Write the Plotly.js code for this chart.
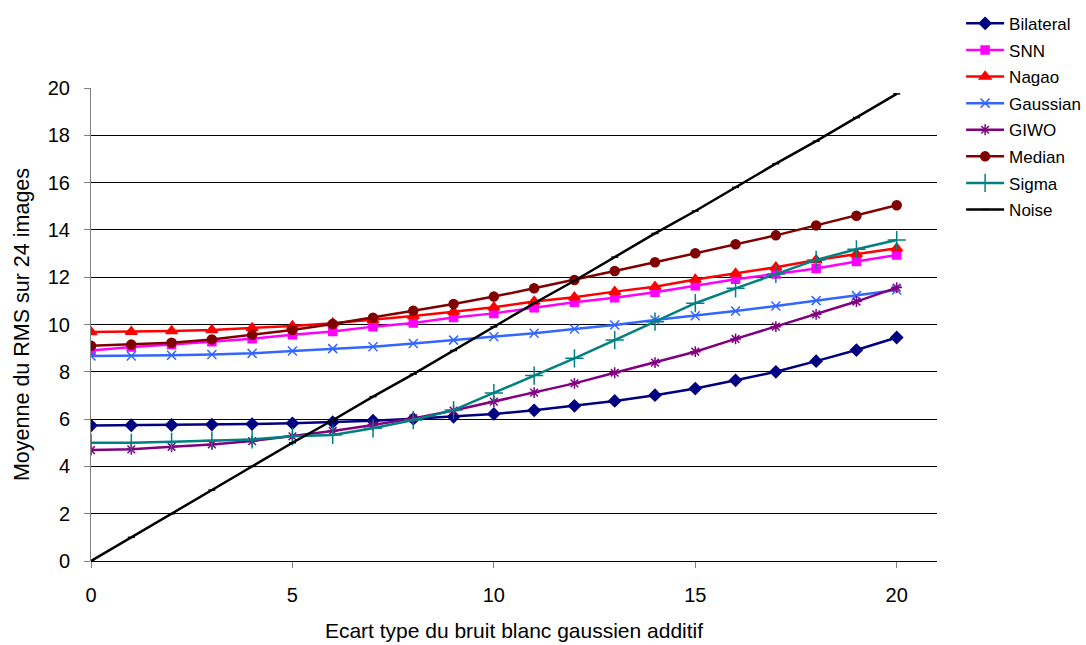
<!DOCTYPE html>
<html>
<head>
<meta charset="utf-8">
<script src="https://cdn.plot.ly/plotly-3.0.1.min.js"></script>
<style>html,body{margin:0;padding:0;background:#fff;}#chart{width:1086px;height:645px;}</style>
</head>
<body>
<div id="chart"></div>
<script>
const xValues = [0,1,2,3,4,5,6,7,8,9,10,11,12,13,14,15,16,17,18,19,20];
const bilateral = [5.73,5.74,5.75,5.77,5.79,5.82,5.87,5.93,6.01,6.10,6.22,6.37,6.56,6.77,7.01,7.29,7.64,8.00,8.45,8.92,9.45];
const snn = [8.90,9.05,9.15,9.27,9.40,9.57,9.70,9.91,10.06,10.30,10.47,10.71,10.94,11.13,11.36,11.64,11.91,12.14,12.37,12.66,12.94];
const nagao = [9.68,9.69,9.73,9.77,9.85,9.94,10.05,10.19,10.36,10.54,10.73,10.97,11.15,11.39,11.60,11.90,12.16,12.42,12.73,12.98,13.22];
const gaussian = [8.67,8.67,8.70,8.73,8.78,8.88,8.98,9.06,9.20,9.34,9.48,9.63,9.81,9.98,10.19,10.37,10.57,10.78,11.01,11.22,11.46];
const giwo = [4.69,4.72,4.83,4.93,5.07,5.27,5.50,5.75,6.03,6.36,6.74,7.12,7.51,7.96,8.39,8.85,9.39,9.91,10.43,10.97,11.56];
const median = [9.10,9.15,9.23,9.37,9.56,9.77,10.02,10.29,10.58,10.87,11.18,11.53,11.88,12.26,12.63,13.01,13.39,13.77,14.19,14.60,15.04];
const sigma = [5.00,5.00,5.04,5.09,5.14,5.27,5.33,5.61,5.96,6.38,7.10,7.84,8.57,9.34,10.12,10.90,11.53,12.14,12.73,13.18,13.57];
const noise = [0,1,2,3,4,5,5.95,6.95,7.9,8.9,9.9,10.9,11.85,12.85,13.85,14.8,15.8,16.8,17.75,18.75,19.75];
const xTickVals = [0,5,10,15,20];
const yTickVals = [0,2,4,6,8,10,12,14,16,18,20];

function tr(name, y, color, symbol, size) {
  return {
    type: 'scatter', mode: 'lines+markers', name: name, x: xValues, y: y,
    legendgroup: name,
    line: {color: color, width: 2.5},
    marker: {color: color, symbol: symbol, size: size, line: {color: color, width: 1.5}}
  };
}

const data = [
  tr('Bilateral', bilateral, '#000080', 'diamond', 9),
  tr('SNN', snn, '#FF00FF', 'square', 8),
  tr('Nagao', nagao, '#FF0000', 'triangle-up', 10),
  tr('Gaussian', gaussian, '#3366FF', 'x-thin', 9),
  tr('GIWO', giwo, '#800080', 'asterisk', 9),
  tr('Median', median, '#800000', 'circle', 9),
  tr('Sigma', sigma, '#008080', 'cross-thin', 13),
  tr('Noise', noise, '#000000', 'line-ew', 5)
];

const layout = {
  width: 1086, height: 645,
  margin: {l: 91, r: 149, t: 88, b: 84, autoexpand: false},
  paper_bgcolor: '#fff', plot_bgcolor: '#fff',
  font: {family: 'Liberation Sans, Arial, sans-serif', color: '#000'},
  showlegend: true,
  legend: {
    xref: 'container', yref: 'container',
    x: 0.885, y: 0.991, xanchor: 'left', yanchor: 'top',
    font: {size: 17, color: '#000'},
    itemwidth: 38,
    traceorder: 'grouped', tracegroupgap: 1.5,
    bgcolor: 'rgba(0,0,0,0)'
  },
  xaxis: {
    range: [0, 21], tickvals: xTickVals, ticktext: xTickVals.map(String),
    showgrid: false, zeroline: false, automargin: false,
    showline: false, ticks: 'outside', ticklen: 6, tickcolor: '#808080',
    ticklabelstandoff: 10,
    tickfont: {size: 20},
    title: {text: 'Ecart type du bruit blanc gaussien additif', font: {size: 21}, standoff: 18}
  },
  yaxis: {
    range: [0, 20], tickvals: yTickVals, ticktext: yTickVals.map(String),
    showgrid: true, gridcolor: '#000', gridwidth: 1, automargin: false,
    zeroline: true, zerolinecolor: '#000', zerolinewidth: 1,
    showline: true, linecolor: '#808080', linewidth: 1,
    ticks: 'outside', ticklen: 6, tickcolor: '#808080',
    ticklabelstandoff: 10,
    tickfont: {size: 20},
    title: {text: 'Moyenne du RMS sur 24 images', font: {size: 21.5}, standoff: 12}
  }
};

Plotly.newPlot('chart', data, layout, {displayModeBar: false, staticPlot: true});
</script>
</body>
</html>
